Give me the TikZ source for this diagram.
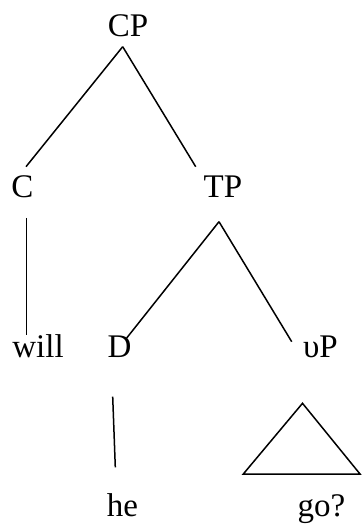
\documentclass[tikz,border=0pt]{standalone}
\usepackage{fontspec}
\setmainfont{Liberation Serif}
\tikzset{
  lbl/.style={inner sep=0pt, anchor=base, font=\fontsize{33}{39}\selectfont},
  branch/.style={line width=1.5pt, black},
}
\begin{document}
\begin{tikzpicture}[x=1pt, y=-1pt]
    \useasboundingbox (0,0) rectangle (361,526);
    % labels
    \node[lbl] (cp) at (128,37) {CP};
    \node[lbl] (c) at (22.5,198) {C};
    \node[lbl] (tp) at (223,198) {TP};
    \node[lbl] (will) at (38,357) {will};
    \node[lbl] (d) at (119.5,357) {D};
    \node[lbl] (vp) at (320.5,357) {υP};
    \node[lbl] (he) at (122.5,516.5) {he};
    \node[lbl] (go) at (321.5,516) {go?};
    % branches
    \draw[branch] ([shift={(-5.3,9.7)}]cp.base) -- ([shift={(3.5,-31.3)}]c.base);
    \draw[branch] ([shift={(-5.3,9.7)}]cp.base) -- ([shift={(-27.3,-31.3)}]tp.base);
    \draw[branch] ([shift={(4.2,20)}]c.base) -- ([shift={(-11.3,-22)}]will.base);
    \draw[branch] ([shift={(-4,23.7)}]tp.base) -- ([shift={(7.2,-19)}]d.base);
    \draw[branch] ([shift={(-4,23.7)}]tp.base) -- ([shift={(-28.8,-15.3)}]vp.base);
    \draw[branch] ([shift={(-6.8,39.7)}]d.base) -- ([shift={(-7.2,-49.2)}]he.base);
    \draw[branch] ([shift={(-18,46.3)}]vp.base) -- ([shift={(-78.2,-42)}]go.base)
      -- ([shift={(38.5,-42)}]go.base) -- cycle;
\end{tikzpicture}
\end{document}
